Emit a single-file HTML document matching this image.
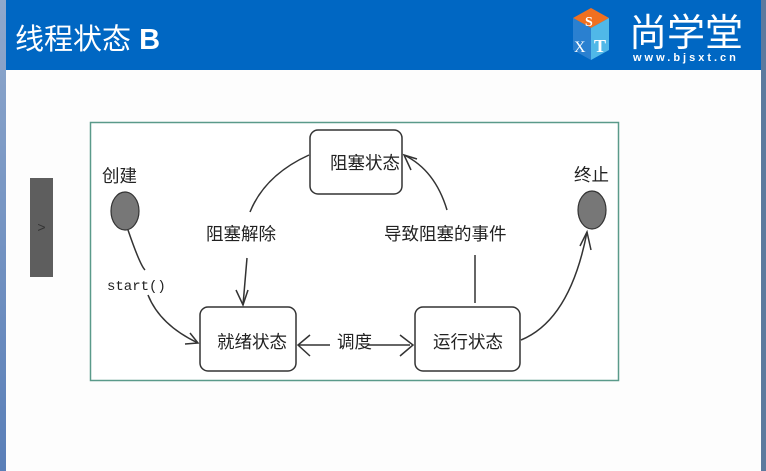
<!DOCTYPE html>
<html><head><meta charset="utf-8"><style>
html,body{margin:0;padding:0;width:766px;height:471px;overflow:hidden;background:#fdfdfd;font-family:"Liberation Sans","Noto Sans CJK SC",sans-serif;}
.l{position:absolute;left:0;top:0;width:6px;height:471px;background:linear-gradient(#8fa8cc,#5a7fb8);}
.r{position:absolute;right:0;top:0;width:5px;height:471px;background:#5d7a9e;}
.hdr{position:absolute;left:6px;top:0;width:755px;height:70px;background:#0067c3;}
.title{position:absolute;left:15px;top:16px;color:#fff;font-size:29px;}
.title b{font-family:"Liberation Sans",sans-serif;}
.tab{position:absolute;left:30px;top:178px;width:23px;height:99px;background:#5e5e5e;color:#333;font-size:14px;text-align:center;line-height:99px;}
</style></head><body>
<div class="l"></div><div class="r"></div>
<div class="hdr"></div>
<div class="title">线程状态 <b>B</b></div>
<svg width="766" height="471" style="position:absolute;left:0;top:0">
 <polygon points="573,18 591,8 609,18 591,28" fill="#f07020"/>
 <polygon points="573,18 591,28 591,60 573,50" fill="#2a80d0"/>
 <polygon points="591,28 609,18 609,50 591,60" fill="#50b8e8"/>
 <text x="585" y="26" font-family="Liberation Serif" font-size="14" font-weight="bold" fill="#fff">S</text>
 <text x="574" y="52" font-family="Liberation Serif" font-size="16" fill="#fff">X</text>
 <text x="594" y="52" font-family="Liberation Serif" font-size="18" font-weight="bold" fill="#fff">T</text>
 <text x="629" y="46" font-family="Noto Sans CJK SC" font-size="38" fill="#fff">尚学堂</text>
 <text x="633" y="61" font-family="Liberation Sans" font-size="11" font-weight="bold" fill="#fff" letter-spacing="3">www.bjsxt.cn</text>
 <rect x="90.5" y="122.5" width="528" height="258" fill="#fff" stroke="#5a9a8a" stroke-width="1.5"/>
 <g fill="#fff" stroke="#333" stroke-width="1.5">
  <rect x="310" y="130" width="92" height="64" rx="8"/>
  <rect x="200" y="307" width="96" height="64" rx="8"/>
  <rect x="415" y="307" width="105" height="64" rx="8"/>
 </g>
 <ellipse cx="125" cy="211" rx="14" ry="19" fill="#777" stroke="#333" stroke-width="1.2"/>
 <ellipse cx="592" cy="210" rx="14" ry="19" fill="#777" stroke="#333" stroke-width="1.2"/>
 <g fill="none" stroke="#333" stroke-width="1.5">
  <path d="M128,230 Q140,265 145,270"/>
  <path d="M148,295 Q160,325 198,343"/>
  <path d="M185,344 L198,343 L190,333"/>
  <path d="M298,345 L330,345"/>
  <path d="M310,335 L298,345 L310,356"/>
  <path d="M368,345 L410,345"/>
  <path d="M400,335 L413,345 L400,356"/>
  <path d="M309,155 Q265,175 250,212"/>
  <path d="M247,258 L243,305"/>
  <path d="M236,290 L243,305 L248,290"/>
  <path d="M475,303 L475,255"/>
  <path d="M447,210 Q435,170 404,155"/>
  <path d="M417,159 L404,155 L411,170"/>
  <path d="M521,340 Q570,320 587,232"/>
  <path d="M580,246 L587,232 L591,250"/>
 </g>
 <g font-family="Noto Sans CJK SC" font-size="17.5" fill="#222">
  <text x="330" y="169">阻塞状态</text>
  <text x="217" y="348">就绪状态</text>
  <text x="433" y="348">运行状态</text>
  <text x="337" y="348">调度</text>
  <text x="206" y="240">阻塞解除</text>
  <text x="384" y="240">导致阻塞的事件</text>
  <text x="102" y="182">创建</text>
  <text x="574" y="181">终止</text>
 </g>
 <text x="107" y="290" font-family="Liberation Mono" font-size="14" fill="#222">start()</text>
</svg>
<div class="tab">&gt;</div>
</body></html>
